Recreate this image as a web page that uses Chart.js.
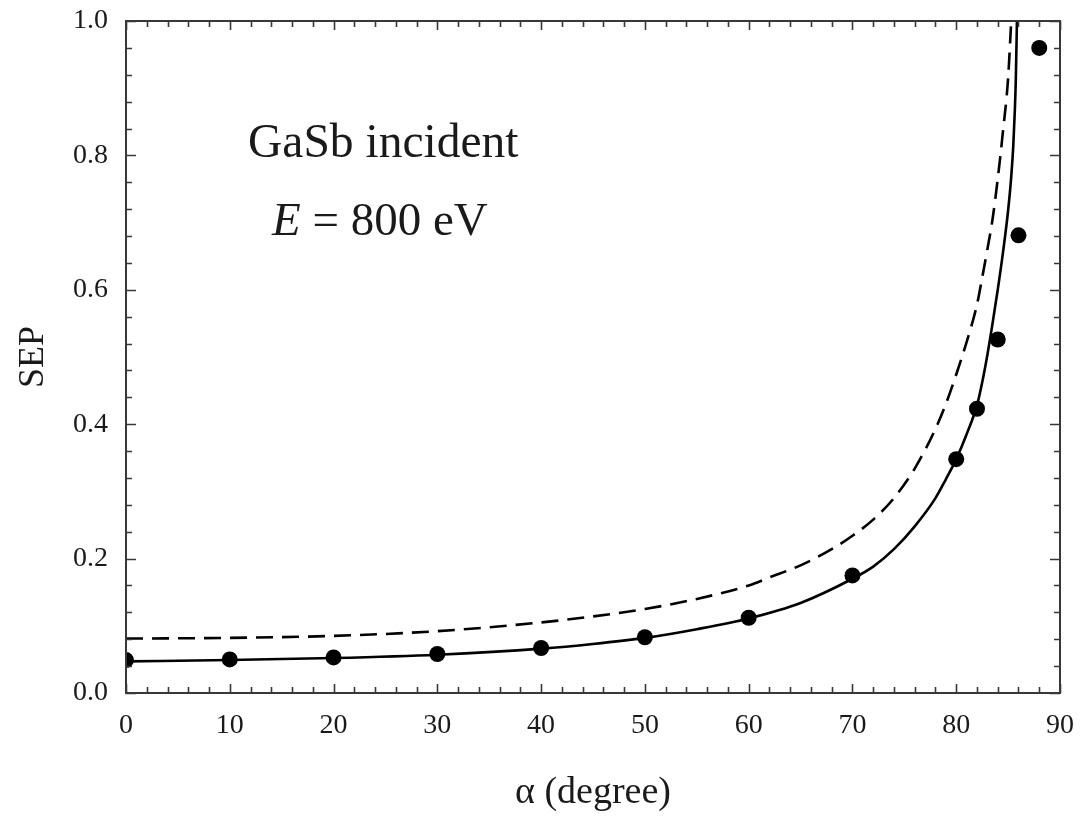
<!DOCTYPE html>
<html>
<head>
<meta charset="utf-8">
<script src="https://cdn.jsdelivr.net/npm/chart.js@4.4.1/dist/chart.umd.min.js"></script>
<style>
  html, body { margin:0; padding:0; background:#fff; }
  #wrap { width:1083px; height:816px; }
</style>
</head>
<body>
<div id="wrap"><canvas id="sep"></canvas></div>
<script>
const SERIF = "'Liberation Serif', 'Times New Roman', serif";
const INK = '#000';
const TEXT = '#1a1a1a';
const FRAME = '#383838';

// measured SEP vs incidence angle (filled circles)
const measAlpha = [0, 10, 20, 30, 40, 50, 60, 70, 80, 82, 84, 86, 88];
const measSEP   = [0.049, 0.050, 0.053, 0.058, 0.067, 0.083, 0.112, 0.175, 0.348, 0.423, 0.526, 0.681, 0.960];

// solid curve
const solidAlpha = [0, 10, 20, 30, 40, 45, 50, 55, 60, 65, 70, 72, 74, 76, 78, 79, 80, 81, 82, 82.5, 83, 83.5, 84, 84.5, 85, 85.3, 85.5, 85.65, 85.75, 85.85];
const solidSEP   = [0.047, 0.049, 0.052, 0.057, 0.066, 0.073, 0.082, 0.095, 0.111, 0.134, 0.170, 0.188, 0.214, 0.248, 0.290, 0.318, 0.348, 0.385, 0.428, 0.462, 0.503, 0.550, 0.600, 0.655, 0.718, 0.768, 0.815, 0.868, 0.918, 1.0];

// dashed curve
const dashAlpha = [0, 10, 20, 30, 40, 45, 50, 55, 60, 62, 65, 68, 70, 72, 74, 76, 78, 79, 80, 81, 82, 82.5, 83, 83.5, 84, 84.5, 85, 85.3];
const dashSEP   = [0.081, 0.082, 0.085, 0.092, 0.105, 0.114, 0.125, 0.140, 0.160, 0.172, 0.190, 0.214, 0.234, 0.258, 0.290, 0.334, 0.393, 0.430, 0.474, 0.522, 0.578, 0.618, 0.660, 0.705, 0.765, 0.835, 0.915, 1.0];

const X_MIN = 0, X_MAX = 90, X_STEP = 10, X_MINOR = 2;
const Y_MIN = 0, Y_MAX = 1.0, Y_STEP = 0.2, Y_MINOR = 0.04;

const pairs = (xs, ys) => xs.map((x, i) => ({ x, y: ys[i] }));

// box frame, inward ticks on all four sides, and the in-plot note
const frameAndTicks = {
  id: 'frameAndTicks',
  afterDatasetsDraw(chart) {
    const { ctx, chartArea: a, scales: { x, y } } = chart;
    ctx.save();
    ctx.strokeStyle = FRAME;
    ctx.lineWidth = 1.6;
    ctx.beginPath();
    const nx = Math.round((X_MAX - X_MIN) / X_MINOR);
    for (let i = 0; i <= nx; i++) {
      const v = X_MIN + i * X_MINOR;
      const px = Math.round(x.getPixelForValue(v)) + 0.5;
      const len = (v % X_STEP === 0) ? 9 : 6;
      ctx.moveTo(px, a.bottom); ctx.lineTo(px, a.bottom - len);
      ctx.moveTo(px, a.top);    ctx.lineTo(px, a.top + len);
    }
    const ny = Math.round((Y_MAX - Y_MIN) / Y_MINOR);
    const per = Math.round(Y_STEP / Y_MINOR);
    for (let i = 0; i <= ny; i++) {
      const v = Y_MIN + i * Y_MINOR;
      const py = Math.round(y.getPixelForValue(v)) + 0.5;
      const len = (i % per === 0) ? 10 : 6;
      ctx.moveTo(a.left, py);  ctx.lineTo(a.left + len, py);
      ctx.moveTo(a.right, py); ctx.lineTo(a.right - len, py);
    }
    ctx.stroke();

    ctx.lineWidth = 2;
    ctx.strokeRect(a.left, a.top, a.right - a.left, a.bottom - a.top);

    ctx.fillStyle = TEXT;
    ctx.textBaseline = 'alphabetic';
    ctx.textAlign = 'left';
    ctx.font = '47.5px ' + SERIF;
    ctx.fillText('GaSb incident', 248, 157);

    let tx = 272;
    ctx.font = 'italic 47px ' + SERIF;
    ctx.fillText('E', tx, 235);
    tx += ctx.measureText('E').width;
    ctx.font = '47px ' + SERIF;
    ctx.fillText(' = 800 eV', tx, 235);
    ctx.restore();
  }
};

new Chart(document.getElementById('sep'), {
  type: 'scatter',
  data: {
    datasets: [
      {
        label: 'measured',
        data: pairs(measAlpha, measSEP),
        showLine: false,
        pointRadius: 8,
        pointHoverRadius: 8,
        pointBackgroundColor: INK,
        pointBorderWidth: 0,
        order: 0
      },
      {
        label: 'solid',
        data: pairs(solidAlpha, solidSEP),
        showLine: true,
        pointRadius: 0,
        borderColor: INK,
        borderWidth: 2.6,
        cubicInterpolationMode: 'monotone',
        order: 1
      },
      {
        label: 'dashed',
        data: pairs(dashAlpha, dashSEP),
        showLine: true,
        pointRadius: 0,
        borderColor: INK,
        borderWidth: 2.6,
        borderDash: [17, 9],
        cubicInterpolationMode: 'monotone',
        order: 2
      }
    ]
  },
  options: {
    responsive: true,
    maintainAspectRatio: false,
    animation: false,
    layout: { padding: { left: 0, right: 23, top: 21, bottom: 0 } },
    plugins: {
      legend: { display: false },
      tooltip: { enabled: false }
    },
    scales: {
      x: {
        type: 'linear',
        min: X_MIN, max: X_MAX,
        grid: { display: false, drawTicks: false },
        border: { display: false },
        ticks: {
          stepSize: X_STEP,
          padding: 16,
          color: TEXT,
          font: { family: SERIF, size: 28 },
          maxRotation: 0
        },
        title: {
          display: true,
          text: 'α (degree)',
          color: TEXT,
          font: { family: SERIF, size: 38 },
          padding: { top: 0, bottom: 0 }
        },
        afterFit(scale) {
          scale.height = 123;
          scale.paddingLeft = 0;
          scale.paddingRight = 0;
        }
      },
      y: {
        type: 'linear',
        min: Y_MIN, max: Y_MAX,
        grid: { display: false, drawTicks: false },
        border: { display: false },
        ticks: {
          stepSize: Y_STEP,
          padding: 18,
          color: TEXT,
          font: { family: SERIF, size: 28 },
          callback: v => v.toFixed(1)
        },
        title: {
          display: true,
          text: 'SEP',
          color: TEXT,
          font: { family: SERIF, size: 36 },
          padding: { top: 12, bottom: 0 }
        },
        afterFit(scale) {
          scale.width = 126;
          scale.paddingTop = 0;
          scale.paddingBottom = 0;
        }
      }
    }
  },
  plugins: [frameAndTicks]
});
</script>
</body>
</html>
